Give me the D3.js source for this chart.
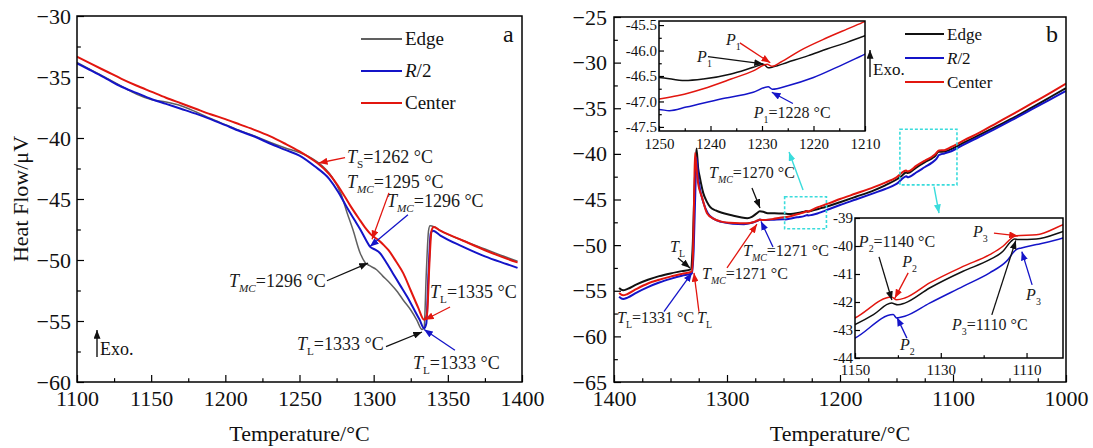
<!DOCTYPE html>
<html>
<head>
<meta charset="utf-8">
<script src="https://cdn.jsdelivr.net/npm/d3@7"></script>
<style>
body { margin: 0; background: #fff; }
svg { display: block; font-family: "Liberation Serif", "Times New Roman", serif; }
</style>
</head>
<body>
<svg id="chart" width="1093" height="448"></svg>
<script>
// ---- panel a : heating curves, [temperature, heat flow] ----
var aEdge = [[1100,-33.8],[1110,-34.45],[1120,-35.1],[1130,-35.75],[1140,-36.4],[1150,-36.85],[1160,-37.05],[1170,-37.35],[1180,-37.85],[1190,-38.4],[1200,-38.9],[1210,-39.4],[1220,-39.85],[1230,-40.35],[1240,-40.8],[1250,-41.2],[1256,-41.5],[1262,-41.95],[1268,-42.6],[1272,-43.2],[1278,-44.6],[1282,-46.1],[1286,-47.5],[1290.8,-49.4],[1294.2,-50.2],[1297,-50.45],[1302,-50.8],[1306,-51.3],[1311,-51.9],[1316,-52.6],[1320,-53.3],[1325,-54.1],[1329,-54.9],[1332.6,-55.7],[1334,-55.55],[1335.5,-51],[1337,-47.6],[1338,-47.2],[1341,-47.3],[1345,-47.6],[1360,-48.4],[1375,-49.1],[1390,-49.8],[1397,-50.1]];
var aR2 = [[1100,-33.88],[1110,-34.5],[1120,-35.15],[1130,-35.8],[1140,-36.3],[1150,-36.8],[1160,-37.2],[1170,-37.6],[1180,-38.0],[1190,-38.45],[1200,-38.95],[1210,-39.45],[1220,-39.9],[1230,-40.45],[1240,-40.95],[1250,-41.45],[1260,-42.3],[1270,-43.35],[1276,-44.4],[1282,-45.7],[1287,-46.7],[1291,-47.5],[1295,-48.4],[1297.5,-48.9],[1301,-49.15],[1304,-49.4],[1308,-50.1],[1313,-51.1],[1318,-52.1],[1322.5,-53.0],[1327,-54.0],[1331,-54.9],[1334,-55.6],[1335.5,-55.2],[1337,-51],[1338.5,-47.8],[1340,-47.6],[1345,-48.0],[1360,-48.9],[1375,-49.7],[1390,-50.35],[1397,-50.65]];
var aCenter = [[1100,-33.34],[1110,-33.95],[1120,-34.55],[1130,-35.15],[1140,-35.7],[1150,-36.2],[1160,-36.7],[1170,-37.15],[1180,-37.6],[1190,-38.05],[1200,-38.45],[1210,-38.9],[1220,-39.35],[1230,-39.85],[1240,-40.45],[1250,-41.1],[1256,-41.55],[1262,-42.05],[1270,-42.95],[1278,-44.3],[1284,-45.5],[1290,-46.6],[1294,-47.3],[1299,-48.0],[1303,-48.35],[1307,-48.8],[1310,-49.2],[1315,-50.1],[1320,-51.1],[1325,-52.5],[1330,-53.9],[1334,-54.9],[1336,-54.4],[1337.5,-50.5],[1339,-47.6],[1340.5,-47.3],[1345,-47.6],[1360,-48.4],[1375,-49.2],[1390,-49.9],[1397,-50.2]];

// ---- panel b : cooling curves ----
var bEdge = [[1395.5,-54.7],[1392,-54.95],[1388,-54.8],[1380,-54.3],[1370,-53.8],[1360,-53.4],[1350,-53.1],[1340,-52.85],[1332,-52.65],[1330.5,-50.5],[1328.5,-43],[1327,-39.4],[1325.5,-41.6],[1324,-42.6],[1321,-44.3],[1318,-45.2],[1315,-45.8],[1310,-46.2],[1303,-46.5],[1295,-46.75],[1288,-46.95],[1282,-47.05],[1278,-46.9],[1274,-46.55],[1271,-46.3],[1268,-46.35],[1264,-46.5],[1258,-46.52],[1250,-46.53],[1245,-46.59],[1241.4,-46.56],[1236,-46.46],[1231.7,-46.33],[1229.7,-46.27],[1228.8,-46.34],[1227.8,-46.32],[1225,-46.23],[1221,-46.1],[1217.4,-45.97],[1213.5,-45.84],[1210,-45.71],[1200,-45.3],[1186,-44.7],[1170,-44.0],[1160,-43.45],[1150,-42.81],[1145.7,-42.45],[1141.5,-42.04],[1140,-42.1],[1138.4,-42.04],[1132.6,-41.5],[1124.8,-40.9],[1118.6,-40.49],[1115.5,-40.19],[1113.6,-39.83],[1112.8,-39.75],[1112,-39.77],[1107.7,-39.75],[1101.5,-39.48],[1090,-38.75],[1077,-37.95],[1061,-36.95],[1045,-35.95],[1030,-34.9],[1015,-33.85],[1000,-32.8]];
var bR2 = [[1395.5,-55.65],[1392,-55.9],[1388,-55.75],[1380,-55.2],[1370,-54.6],[1360,-54.1],[1350,-53.7],[1340,-53.35],[1331,-53.1],[1329.5,-50.5],[1328,-44],[1327,-40.4],[1325.5,-42.5],[1324,-43.8],[1321,-45.3],[1317,-46.5],[1312,-47.1],[1305,-47.45],[1295,-47.65],[1285,-47.7],[1278,-47.55],[1273,-47.35],[1271,-47.2],[1269,-47.25],[1260,-47.22],[1250,-47.16],[1248,-47.18],[1244.7,-47.11],[1238,-46.95],[1231.7,-46.82],[1228.8,-46.71],[1228,-46.76],[1225,-46.69],[1220,-46.53],[1215.5,-46.33],[1210,-46.07],[1200,-45.6],[1186,-45.0],[1170,-44.3],[1160,-43.85],[1150,-43.29],[1141.1,-42.45],[1140.3,-42.57],[1138.4,-42.51],[1132.6,-42.04],[1124.8,-41.44],[1118.6,-40.96],[1114.7,-40.55],[1112.4,-40.13],[1111.2,-40.07],[1107.7,-39.95],[1101.5,-39.71],[1090,-38.95],[1077,-38.15],[1061,-37.15],[1045,-36.1],[1030,-35.1],[1015,-34.1],[1000,-33.1]];
var bCenter = [[1395.5,-55.25],[1392,-55.5],[1388,-55.35],[1380,-54.8],[1370,-54.2],[1360,-53.8],[1350,-53.45],[1340,-53.15],[1331,-52.9],[1330,-50.5],[1329,-44],[1328.3,-39.9],[1327,-41.5],[1325.6,-43.2],[1322,-44.8],[1317.7,-46.5],[1312,-47.1],[1306,-47.4],[1298,-47.55],[1288.5,-47.6],[1282,-47.6],[1277,-47.5],[1273,-47.3],[1271,-47.22],[1268,-47.25],[1260,-47.15],[1250,-46.95],[1246,-46.88],[1241.4,-46.75],[1236,-46.56],[1231.7,-46.4],[1229,-46.27],[1228,-46.31],[1226.4,-46.23],[1222.6,-46.0],[1217.4,-45.75],[1213.5,-45.58],[1210,-45.43],[1200,-44.95],[1186,-44.35],[1170,-43.65],[1160,-43.15],[1150,-42.57],[1141.5,-41.82],[1140.3,-41.92],[1138.4,-41.86],[1132.6,-41.32],[1124.8,-40.73],[1118.6,-40.31],[1115.5,-40.01],[1113.2,-39.68],[1112.4,-39.63],[1107.7,-39.6],[1101.5,-39.24],[1090,-38.5],[1077,-37.7],[1061,-36.6],[1045,-35.5],[1030,-34.45],[1015,-33.4],[1000,-32.3]];

// ---- ticks ----
var aTicksX = [1100, 1150, 1200, 1250, 1300, 1350, 1400];
var aTicksY = [-60, -55, -50, -45, -40, -35, -30];
var bTicksX = [1400, 1300, 1200, 1100, 1000];
var bTicksY = [-65, -60, -55, -50, -45, -40, -35, -30, -25];
var in1TicksX = [1250, 1240, 1230, 1220, 1210];
var in1TicksY = [-47.5, -47.0, -46.5, -46.0, -45.5];
var in2TicksX = [1150, 1130, 1110];
var in2TicksY = [-44, -43, -42, -41, -40, -39];

var seriesNames = ['Edge', 'R/2', 'Center'];

// ---- annotations, in data units: [text start], arrows [from, to] ----
var aLabels = [
    { at: [1282, -42.05], t: 'T', sub: 'S', rest: '=1262 °C' },
    { at: [1282, -44.1], t: 'T', sub: 'MC', rest: '=1295 °C' },
    { at: [1309, -45.66], t: 'T', sub: 'MC', rest: '=1296 °C' },
    { at: [1202.5, -52.2], t: 'T', sub: 'MC', rest: '=1296 °C' },
    { at: [1338, -53.1], t: 'T', sub: 'L', rest: '=1335 °C' },
    { at: [1248.3, -57.4], t: 'T', sub: 'L', rest: '=1333 °C' },
    { at: [1326.5, -58.9], t: 'T', sub: 'L', rest: '=1333 °C' }
];
var aArrows = [
    { s: 'Center', from: [1280.7, -41.6], to: [1263, -42.05] },
    { s: 'Center', from: [1310.3, -44.5], to: [1298.9, -48.3] },
    { s: 'R/2', from: [1323.1, -46.3], to: [1297.5, -48.9] },
    { s: 'Edge', from: [1268.5, -51.7], to: [1296.2, -50.25] },
    { s: 'Center', from: [1351.5, -53.85], to: [1334.6, -54.9] },
    { s: 'Edge', from: [1308.3, -57.1], to: [1332.6, -55.9] },
    { s: 'R/2', from: [1354.8, -57.4], to: [1334, -55.7] }
];
var bLabels = [
    { at: [1350.4, -50.75], t: 'T', sub: 'L', rest: '' },
    { at: [1397.3, -58.5], t: 'T', sub: 'L', rest: '=1331 °C' },
    { at: [1326.5, -58.5], t: 'T', sub: 'L', rest: '' },
    { at: [1315.9, -42.64], t: 'T', sub: 'MC', rest: '=1270 °C' },
    { at: [1285.8, -51.2], t: 'T', sub: 'MC', rest: '=1271 °C' },
    { at: [1322.1, -53.7], t: 'T', sub: 'MC', rest: '=1271 °C' }
];
var bArrows = [
    { s: 'Edge', from: [1343.4, -51.4], to: [1332.7, -52.5] },
    { s: 'R/2', from: [1355.8, -57.3], to: [1331, -53.05] },
    { s: 'Center', from: [1324.8, -57.3], to: [1329.2, -53.05] },
    { s: 'Edge', from: [1277.9, -43.74], to: [1270.8, -45.93] },
    { s: 'R/2', from: [1259.3, -50.2], to: [1269.9, -47.4] },
    { s: 'Center', from: [1300, -52.5], to: [1273.5, -47.7] }
];
var in1Labels = [
    { at: [1237, -45.89], t: 'P', sub: '1', rest: '' },
    { at: [1242.6, -46.23], t: 'P', sub: '1', rest: '' },
    { at: [1231.6, -47.32], t: 'P', sub: '1', rest: '=1228 °C' }
];
var in1Arrows = [
    { s: 'Center', from: [1234.3, -45.85], to: [1228.4, -46.24] },
    { s: 'Edge', from: [1240.5, -46.12], to: [1229.8, -46.26] },
    { s: 'R/2', from: [1224.0, -47.04], to: [1228.1, -46.82] }
];
var in2Labels = [
    { at: [1149.1, -40.04], t: 'P', sub: '2', rest: '=1140 °C' },
    { at: [1139.0, -40.75], t: 'P', sub: '2', rest: '' },
    { at: [1139.5, -43.71], t: 'P', sub: '2', rest: '' },
    { at: [1122.5, -39.68], t: 'P', sub: '3', rest: '' },
    { at: [1110.1, -41.93], t: 'P', sub: '3', rest: '' },
    { at: [1127.4, -43.0], t: 'P', sub: '3', rest: '=1110 °C' }
];
var in2Arrows = [
    { s: 'Edge', from: [1144.4, -40.39], to: [1141.4, -41.93] },
    { s: 'Center', from: [1137.6, -40.96], to: [1140.7, -41.86] },
    { s: 'R/2', from: [1137.9, -43.29], to: [1140.2, -42.55] },
    { s: 'Center', from: [1117.6, -39.54], to: [1112, -39.64] },
    { s: 'R/2', from: [1108.7, -41.39], to: [1111.1, -40.2] },
    { s: 'Edge', from: [1118.1, -42.46], to: [1112.5, -39.8] }
];
// zoomed regions marked on panel b: [t0, t1, v0, v1]
var zoomBoxes = [[1249, 1212, -44.7, -48.2], [1147, 1096.5, -37.3, -43.4]];
var zoomArrows = [[[1232.7, -43.96], [1245.1, -39.8]], [[1116.8, -43.6], [1112.4, -46.5]]];

(function() {
    'use strict';

    var RED = '#e2160f', BLUE = '#1414c8', BLACK = '#111', GRAY = '#606060', CYAN = '#3adcdc';
    var svg = d3.select('#chart');
    var defs = svg.append('defs');

    var colorA = { 'Edge': GRAY, 'R/2': BLUE, 'Center': RED };
    var colorB = { 'Edge': BLACK, 'R/2': BLUE, 'Center': RED };

    [['red', RED], ['blue', BLUE], ['black', BLACK], ['cyan', CYAN]].forEach(function(m) {
        defs.append('marker')
            .attr('id', 'arr-' + m[0])
            .attr('viewBox', '0 0 10 8')
            .attr('refX', 10).attr('refY', 4)
            .attr('markerWidth', 9).attr('markerHeight', 7)
            .attr('markerUnits', 'userSpaceOnUse')
            .attr('orient', 'auto')
            .append('path').attr('d', 'M0,0L10,4L0,8Z').attr('fill', m[1]);
    });
    function markerFor(c) {
        return c === RED ? 'url(#arr-red)' : c === BLUE ? 'url(#arr-blue)' : c === CYAN ? 'url(#arr-cyan)' : 'url(#arr-black)';
    }

    function clip(id, x, y) {
        var r = x.range(), s = y.range();
        defs.append('clipPath').attr('id', id).append('rect')
            .attr('x', Math.min(r[0], r[1])).attr('y', Math.min(s[0], s[1]))
            .attr('width', Math.abs(r[1] - r[0])).attr('height', Math.abs(s[1] - s[0]));
        return 'url(#' + id + ')';
    }

    function axes(g, x, y, o) {
        var y0 = y.range()[0], x0 = x.range()[0];
        var xa = g.append('g').attr('transform', 'translate(0,' + y0 + ')')
            .call(d3.axisBottom(x).tickValues(o.xMajor).tickSize(-o.tick).tickPadding(o.padX).tickFormat(o.fx));
        var xm = g.append('g').attr('transform', 'translate(0,' + y0 + ')')
            .call(d3.axisBottom(x).tickValues(o.xMinor).tickSize(-o.tick * 0.55).tickFormat(''));
        var ya = g.append('g').attr('transform', 'translate(' + x0 + ',0)')
            .call(d3.axisLeft(y).tickValues(o.yMajor).tickSize(-o.tick).tickPadding(o.padY).tickFormat(o.fy));
        var ym = g.append('g').attr('transform', 'translate(' + x0 + ',0)')
            .call(d3.axisLeft(y).tickValues(o.yMinor).tickSize(-o.tick * 0.55).tickFormat(''));
        [xa, xm, ya, ym].forEach(function(a) {
            a.attr('font-family', null).attr('font-size', o.font);
            a.select('.domain').remove();
            a.selectAll('line').attr('stroke', '#000').attr('stroke-width', 1.2);
            a.selectAll('text').attr('fill', '#111');
        });
        var r = x.range(), s = y.range();
        g.append('rect')
            .attr('x', Math.min(r[0], r[1])).attr('y', Math.min(s[0], s[1]))
            .attr('width', Math.abs(r[1] - r[0])).attr('height', Math.abs(s[1] - s[0]))
            .attr('fill', 'none').attr('stroke', '#000').attr('stroke-width', 1.5);
    }

    function curves(g, x, y, data, colors, width, clipUrl) {
        var line = d3.line().x(function(d) { return x(d[0]); }).y(function(d) { return y(d[1]); })
            .curve(d3.curveMonotoneX);
        var cg = g.append('g').attr('clip-path', clipUrl);
        data.forEach(function(s) {
            cg.append('path').attr('d', line(s.values))
                .attr('fill', 'none').attr('stroke', colors[s.name])
                .attr('stroke-width', s.name === 'Edge' && colors === colorA ? width - 0.5 : width)
                .attr('stroke-linejoin', 'round');
        });
    }

    function rich(g, px, py, l, size) {
        var t = g.append('text').attr('x', px).attr('y', py).attr('font-size', size).attr('fill', '#1a1a1a');
        t.append('tspan').text(l.t).attr('font-style', 'italic');
        var sh = Math.round(size * 0.3);
        t.append('tspan').text(l.sub).attr('dy', sh).attr('font-size', size * 0.62)
            .attr('font-style', l.sub === 'MC' ? 'italic' : null);
        if (l.rest) t.append('tspan').text(l.rest).attr('dy', -sh);
    }

    function notes(g, x, y, labels, arrows, colors, size) {
        arrows.forEach(function(a) {
            var c = colors[a.s] === GRAY ? BLACK : colors[a.s];
            g.append('line')
                .attr('x1', x(a.from[0])).attr('y1', y(a.from[1]))
                .attr('x2', x(a.to[0])).attr('y2', y(a.to[1]))
                .attr('stroke', c).attr('stroke-width', 1.3)
                .attr('marker-end', markerFor(c));
        });
        labels.forEach(function(l) { rich(g, x(l.at[0]), y(l.at[1]), l, size); });
    }

    function legend(g, x0, y0, gap, len, size, colors) {
        seriesNames.forEach(function(n, i) {
            var yy = y0 + i * gap;
            g.append('line').attr('x1', x0).attr('x2', x0 + len).attr('y1', yy).attr('y2', yy)
                .attr('stroke', colors[n]).attr('stroke-width', 2);
            var t = g.append('text').attr('x', x0 + len + 3).attr('y', yy + 6).attr('font-size', size).attr('fill', '#111');
            if (n === 'R/2') {
                t.append('tspan').text('R').attr('font-style', 'italic');
                t.append('tspan').text('/2');
            } else {
                t.text(n);
            }
        });
    }

    function exo(g, px, py, size) {
        g.append('line').attr('x1', px).attr('x2', px).attr('y1', py).attr('y2', py - 27)
            .attr('stroke', '#000').attr('stroke-width', 1.3).attr('marker-end', markerFor(BLACK));
        g.append('text').attr('x', px + 3).attr('y', py - 2).attr('font-size', size).attr('fill', '#111').text('Exo.');
    }

    var intFmt = d3.format('d');
    var minusFmt = function(d) { return d3.format('d')(d); };

    // ================= panel a =================
    var ax = d3.scaleLinear().domain([1100, 1400]).range([77, 522]);
    var ay = d3.scaleLinear().domain([-60, -30]).range([382, 16]);
    var ga = svg.append('g');
    curves(ga, ax, ay, [
        { name: 'Edge', values: aEdge },
        { name: 'R/2', values: aR2 },
        { name: 'Center', values: aCenter }
    ], colorA, 2, clip('clip-a', ax, ay));
    axes(ga, ax, ay, {
        xMajor: aTicksX, xMinor: d3.range(1125, 1400, 50),
        yMajor: aTicksY, yMinor: d3.range(-57.5, -30, 5),
        tick: 7, padX: 8, padY: 6, font: 22, fx: intFmt, fy: minusFmt
    });
    notes(ga, ax, ay, aLabels, aArrows, colorA, 18);
    legend(ga, 361, 39, 32, 41, 19, colorA);
    ga.append('text').attr('x', 503).attr('y', 42).attr('font-size', 24).attr('fill', '#111').text('a');
    exo(ga, 97, 357, 18);
    ga.append('text').attr('transform', 'translate(28,199) rotate(-90)')
        .attr('text-anchor', 'middle').attr('font-size', 22).attr('fill', '#111').text('Heat Flow/μV');
    ga.append('text').attr('x', 299.5).attr('y', 441).attr('text-anchor', 'middle')
        .attr('font-size', 22).attr('fill', '#111').text('Temperature/°C');

    // ================= panel b =================
    var bx = d3.scaleLinear().domain([1400, 1000]).range([614, 1066]);
    var by = d3.scaleLinear().domain([-65, -25]).range([382, 17]);
    var gb = svg.append('g');
    var bData = [
        { name: 'Edge', values: bEdge },
        { name: 'R/2', values: bR2 },
        { name: 'Center', values: bCenter }
    ];
    curves(gb, bx, by, bData, colorB, 2, clip('clip-b', bx, by));
    axes(gb, bx, by, {
        xMajor: bTicksX, xMinor: d3.range(1025, 1400, 25).filter(function(d) { return d % 100 !== 0; }),
        yMajor: bTicksY, yMinor: d3.range(-62.5, -25, 5),
        tick: 7, padX: 8, padY: 7, font: 22, fx: intFmt, fy: minusFmt
    });
    notes(gb, bx, by, bLabels, bArrows, colorB, 16);

    zoomBoxes.forEach(function(b) {
        gb.append('rect')
            .attr('x', bx(b[0])).attr('y', by(b[2]))
            .attr('width', bx(b[1]) - bx(b[0])).attr('height', by(b[3]) - by(b[2]))
            .attr('fill', 'none').attr('stroke', CYAN).attr('stroke-width', 1.6)
            .attr('stroke-dasharray', '3,2');
    });
    zoomArrows.forEach(function(a) {
        gb.append('line')
            .attr('x1', bx(a[0][0])).attr('y1', by(a[0][1]))
            .attr('x2', bx(a[1][0])).attr('y2', by(a[1][1]))
            .attr('stroke', CYAN).attr('stroke-width', 1.4).attr('marker-end', markerFor(CYAN));
    });

    legend(gb, 905, 34, 24, 39, 17, colorB);
    gb.append('text').attr('x', 1046).attr('y', 42).attr('font-size', 24).attr('fill', '#111').text('b');
    exo(gb, 870, 77, 17);
    gb.append('text').attr('x', 840).attr('y', 441).attr('text-anchor', 'middle')
        .attr('font-size', 22).attr('fill', '#111').text('Temperature/°C');

    // ---- inset 1 ----
    var i1x = d3.scaleLinear().domain([1250, 1210]).range([659, 865]);
    var i1y = d3.scaleLinear().domain([-47.58, -45.42]).range([131, 21]);
    var g1 = svg.append('g');
    g1.append('rect').attr('x', 659).attr('y', 21).attr('width', 206).attr('height', 110).attr('fill', '#fff');
    curves(g1, i1x, i1y, bData, colorB, 1.5, clip('clip-i1', i1x, i1y));
    axes(g1, i1x, i1y, {
        xMajor: in1TicksX, xMinor: [1245, 1235, 1225, 1215],
        yMajor: in1TicksY, yMinor: [-47.25, -46.75, -46.25, -45.75],
        tick: 5, padX: 7, padY: 2, font: 15,
        fx: intFmt, fy: function(d) { return d.toFixed(1); }
    });
    notes(g1, i1x, i1y, in1Labels, in1Arrows, colorB, 16);

    // ---- inset 2 ----
    var i2x = d3.scaleLinear().domain([1150, 1101.5]).range([855, 1063]);
    var i2y = d3.scaleLinear().domain([-44, -39]).range([358, 218]);
    var g2 = svg.append('g');
    g2.append('rect').attr('x', 855).attr('y', 218).attr('width', 208).attr('height', 140).attr('fill', '#fff');
    curves(g2, i2x, i2y, bData, colorB, 1.5, clip('clip-i2', i2x, i2y));
    axes(g2, i2x, i2y, {
        xMajor: in2TicksX, xMinor: [1140, 1120],
        yMajor: in2TicksY, yMinor: [],
        tick: 5, padX: 6, padY: 2, font: 15,
        fx: intFmt, fy: function(d) { return String(d); }
    });
    notes(g2, i2x, i2y, in2Labels, in2Arrows, colorB, 16);
})();
</script>
</body>
</html>
